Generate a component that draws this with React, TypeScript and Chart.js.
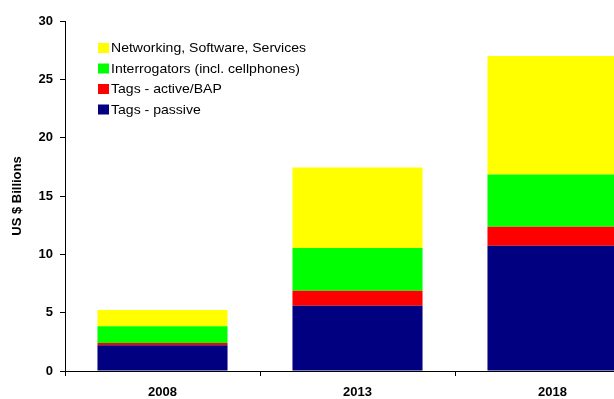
import React, { useEffect, useRef } from "react";
import { Chart, registerables } from "chart.js";

Chart.register(...registerables);

const categories = ["2008", "2013", "2018"];
const seriesLabels = [
  "Tags - passive",
  "Tags - active/BAP",
  "Interrogators (incl. cellphones)",
  "Networking, Software, Services",
];
const seriesColors = ["#000080", "#FF0000", "#00FF00", "#FFFF00"];
const tagsPassive = [2.2, 5.6, 10.74];
const tagsActive = [0.2, 1.28, 1.63];
const interrogators = [1.43, 3.66, 4.48];
const networking = [1.4, 6.91, 10.15];
const yMin = 0;
const yMax = 30;
const yStep = 5;
const yTitle = "US $ Billions";

const FONT = '"Liberation Sans", Arial, sans-serif';

const insideLegend = {
  id: "insideLegend",
  afterDraw(chart: any) {
    const { ctx, chartArea } = chart;
    const ds = chart.data.datasets.slice().reverse();
    ctx.save();
    ctx.font = `13px ${FONT}`;
    ctx.textBaseline = "middle";
    ctx.textAlign = "left";
    ds.forEach((d: any, i: number) => {
      const x = chartArea.left + 33;
      const y = chartArea.top + 27 + i * 20.5;
      ctx.fillStyle = d.backgroundColor;
      ctx.fillRect(x, y - 5, 11, 10);
      ctx.fillStyle = "#000";
      ctx.save();
      ctx.translate(x + 13, y + 0.5);
      ctx.scale(1.08, 1);
      ctx.fillText(d.label, 0, 0);
      ctx.restore();
    });
    ctx.restore();
  },
};

export default function App() {
  const ref = useRef<HTMLCanvasElement | null>(null);

  useEffect(() => {
    if (!ref.current) return;
    const values = [tagsPassive, tagsActive, interrogators, networking];
    const chart = new Chart(ref.current, {
      type: "bar",
      data: {
        labels: categories,
        datasets: values.map((v, i) => ({
          label: seriesLabels[i],
          data: v,
          backgroundColor: seriesColors[i],
          borderWidth: 0,
          categoryPercentage: 1,
          barPercentage: 0.667,
        })),
      },
      options: {
        responsive: false,
        animation: false,
        devicePixelRatio: 1,
        layout: { padding: { top: 21, right: 0, left: 0, bottom: 0 } },
        plugins: {
          legend: { display: false },
          tooltip: { enabled: false },
        },
        scales: {
          x: {
            stacked: true,
            afterFit(scale: any) {
              scale.height = 28;
            },
            grid: {
              display: true,
              offset: true,
              drawOnChartArea: false,
              drawTicks: true,
              tickLength: 5,
              color: "#000",
            },
            border: { display: true, color: "#000", width: 1 },
            ticks: {
              color: "#000",
              font: { family: FONT, size: 13, weight: "bold" },
              padding: 9,
              maxRotation: 0,
            },
          },
          y: {
            stacked: true,
            min: yMin,
            max: yMax,
            afterFit(scale: any) {
              scale.width = 65;
            },
            grid: {
              display: true,
              drawOnChartArea: false,
              drawTicks: true,
              tickLength: 5,
              color: "#000",
            },
            border: { display: true, color: "#000", width: 1 },
            ticks: {
              stepSize: yStep,
              color: "#000",
              font: { family: FONT, size: 13, weight: "bold" },
              padding: 7,
            },
            title: {
              display: true,
              text: yTitle,
              color: "#000",
              font: { family: FONT, size: 13, weight: "bold" },
              padding: { top: 10, bottom: 0 },
            },
          },
        },
      },
      plugins: [insideLegend],
    });
    return () => chart.destroy();
  }, []);

  return (
    <div
      style={{
        position: "fixed",
        left: 0,
        top: 0,
        width: 614,
        height: 399,
        overflow: "hidden",
        background: "#fff",
      }}
    >
      <canvas ref={ref} width={650} height={399} style={{ display: "block" }} />
    </div>
  );
}
